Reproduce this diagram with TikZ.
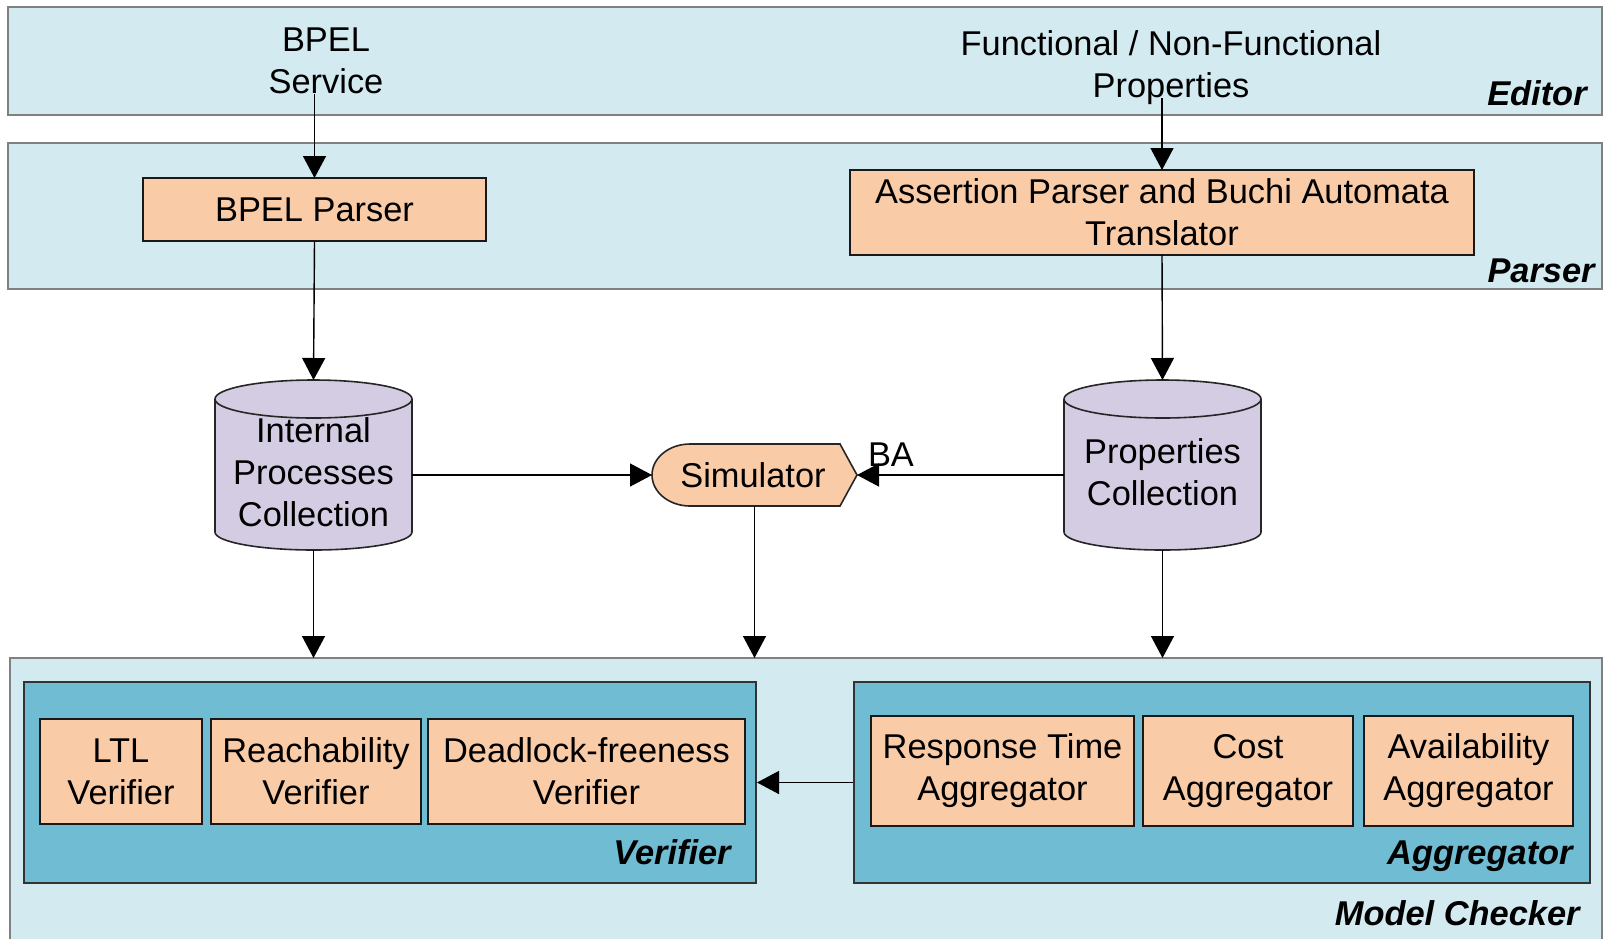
\documentclass[tikz,border=0pt]{standalone}
\usepackage{fontspec}
\setmainfont{Liberation Sans}
\usetikzlibrary{arrows.meta, positioning, calc}
\definecolor{bandfill}{HTML}{D2EAF0}
\definecolor{bandline}{HTML}{808080}
\definecolor{unitfill}{HTML}{70BDD3}
\definecolor{partfill}{HTML}{F9CBA7}
\definecolor{storefill}{HTML}{D4CCE2}

\begin{document}
\begin{tikzpicture}[
  x=0.5pt, y=-0.5pt,
  font=\fontsize{17.2}{21}\selectfont,
  band/.style ={draw=bandline, fill=bandfill, line width=1.4pt, inner sep=0pt, outer sep=0pt},
  unit/.style ={draw=black!80, fill=unitfill, line width=1pt, inner sep=0pt},
  part/.style ={draw=black!90, fill=partfill, line width=0.9pt, align=center, inner xsep=2pt, outer sep=0pt},
  shell/.style={draw=black!85, fill=partfill, line width=0.8pt},
  drum/.style ={draw=black!85, fill=storefill, line width=0.8pt},
  hold/.style ={inner sep=0pt, outer sep=0pt},
  txt/.style  ={align=center, inner sep=0pt},
  tag/.style  ={font=\fontsize{17.2}{21}\selectfont\bfseries\itshape, anchor=base east, inner sep=0pt},
  flow/.style ={-{Triangle[length=11pt, width=11.5pt]}, line width=0.7pt}
]
\useasboundingbox (0,0) rectangle (1605,938);

% the three layers
\node[band, minimum width=797pt, minimum height=54pt] (editor) at (805,61) {};
\node[band, minimum width=797pt, minimum height=73pt] (parser) at (805,216) {};
\node[band, minimum width=796pt, minimum height=146pt] (mc) at (806,804) {};

\node[tag] at ($(editor.south east)+(-15,-10)$) {Editor};
\node[tag] at ($(parser.south east)+(-7,-7)$) {Parser};
\node[tag] at (1580,925) {Model Checker};

\node[txt] (bpel) at (326,61)    {BPEL\\Service};
\node[txt] (props) at (1171,68) {Functional / Non-Functional\\Properties};

\node[part, minimum width=171.5pt, minimum height=31.5pt] (bpp) at (314.5,209.5) {BPEL Parser};
\node[part, minimum width=312pt, minimum height=42.5pt] (apt) at (1162,212.5)
  {Assertion Parser and Buchi Automata\\Translator};

% stores and simulator
\node[hold, minimum width=98.5pt, minimum height=85pt] (ipc) at (313.5,465) {};
\node[hold, minimum width=98.5pt, minimum height=85pt] (pc) at (1162.5,465) {};
\node[hold, minimum width=102.5pt, minimum height=31pt] (sim) at (754.5,475) {};

\filldraw[drum] ($(ipc.north west)+(0,19)$) arc[start angle=180, end angle=360, x radius=98.5, y radius=19]
  -- ($(ipc.south east)+(0,-18)$) arc[start angle=0, end angle=180, x radius=98.5, y radius=18] -- cycle;
\draw[drum, fill=none] ($(ipc.north west)+(0,19)$) arc[start angle=180, end angle=0, x radius=98.5, y radius=19];
\filldraw[drum] ($(pc.north west)+(0,19)$) arc[start angle=180, end angle=360, x radius=98.5, y radius=19]
  -- ($(pc.south east)+(0,-18)$) arc[start angle=0, end angle=180, x radius=98.5, y radius=18] -- cycle;
\draw[drum, fill=none] ($(pc.north west)+(0,19)$) arc[start angle=180, end angle=0, x radius=98.5, y radius=19];
\filldraw[shell] ($(sim.north east)+(-17,0)$) -- (sim.east) -- ($(sim.south east)+(-17,0)$)
  -- ($(sim.south west)+(38,0)$) arc[start angle=90, end angle=270, x radius=38, y radius=31] -- cycle;

\node[txt] at (313.5,472)  {Internal\\Processes\\Collection};
\node[txt] at (1162.5,472) {Properties\\Collection};
\node[txt] at (753,475)    {Simulator};

% model checker parts
\node[unit, minimum width=366pt, minimum height=100.5pt] (ver) at (390,782.5) {};
\node[unit, minimum width=368pt, minimum height=100.5pt] (agg) at (1222,782.5) {};
\node[tag] at ($(ver.south east)+(-26,-20)$) {Verifier};
\node[tag] at ($(agg.south east)+(-18,-20)$) {Aggregator};

\node[part, minimum width=81pt, minimum height=52.5pt] (ltl) at (121,771.5) {LTL\\Verifier};
\node[part, minimum width=105pt, minimum height=52.5pt, right=4.5pt of ltl] (reach) {Reachability\\Verifier};
\node[part, minimum width=158.5pt, minimum height=52.5pt, right=3.5pt of reach] (dead) {Deadlock-freeness\\Verifier};

\node[part, minimum width=131.5pt, minimum height=55pt] (rt) at (1002.5,771) {Response Time\\Aggregator};
\node[part, minimum width=105pt, minimum height=55pt, right=4.5pt of rt] (cost) {Cost\\Aggregator};
\node[part, minimum width=104.5pt, minimum height=55pt, right=5.5pt of cost] (avail) {Availability\\Aggregator};

\draw[flow] (bpp.north |- bpel.south) -- (bpp.north);
\draw[flow] ($(apt.north |- props.south)+(0,-7)$) -- (apt.north);
\draw[flow] (bpp.south) -- (ipc.north);
\draw[flow] (apt.south) -- (pc.north);
\draw[flow] (ipc.east |- sim.west) -- (sim.west);
\draw[flow] (pc.west |- sim.east) -- node[pos=0.836, above=4pt, inner sep=0pt] {BA} (sim.east);
\draw[flow] (ipc.south) -- (ipc.south |- mc.north);
\draw[flow] (sim.south) -- (sim.south |- mc.north);
\draw[flow] (pc.south) -- (pc.south |- mc.north);
\draw[flow] (agg.west) -- (ver.east);

\end{tikzpicture}
\end{document}
